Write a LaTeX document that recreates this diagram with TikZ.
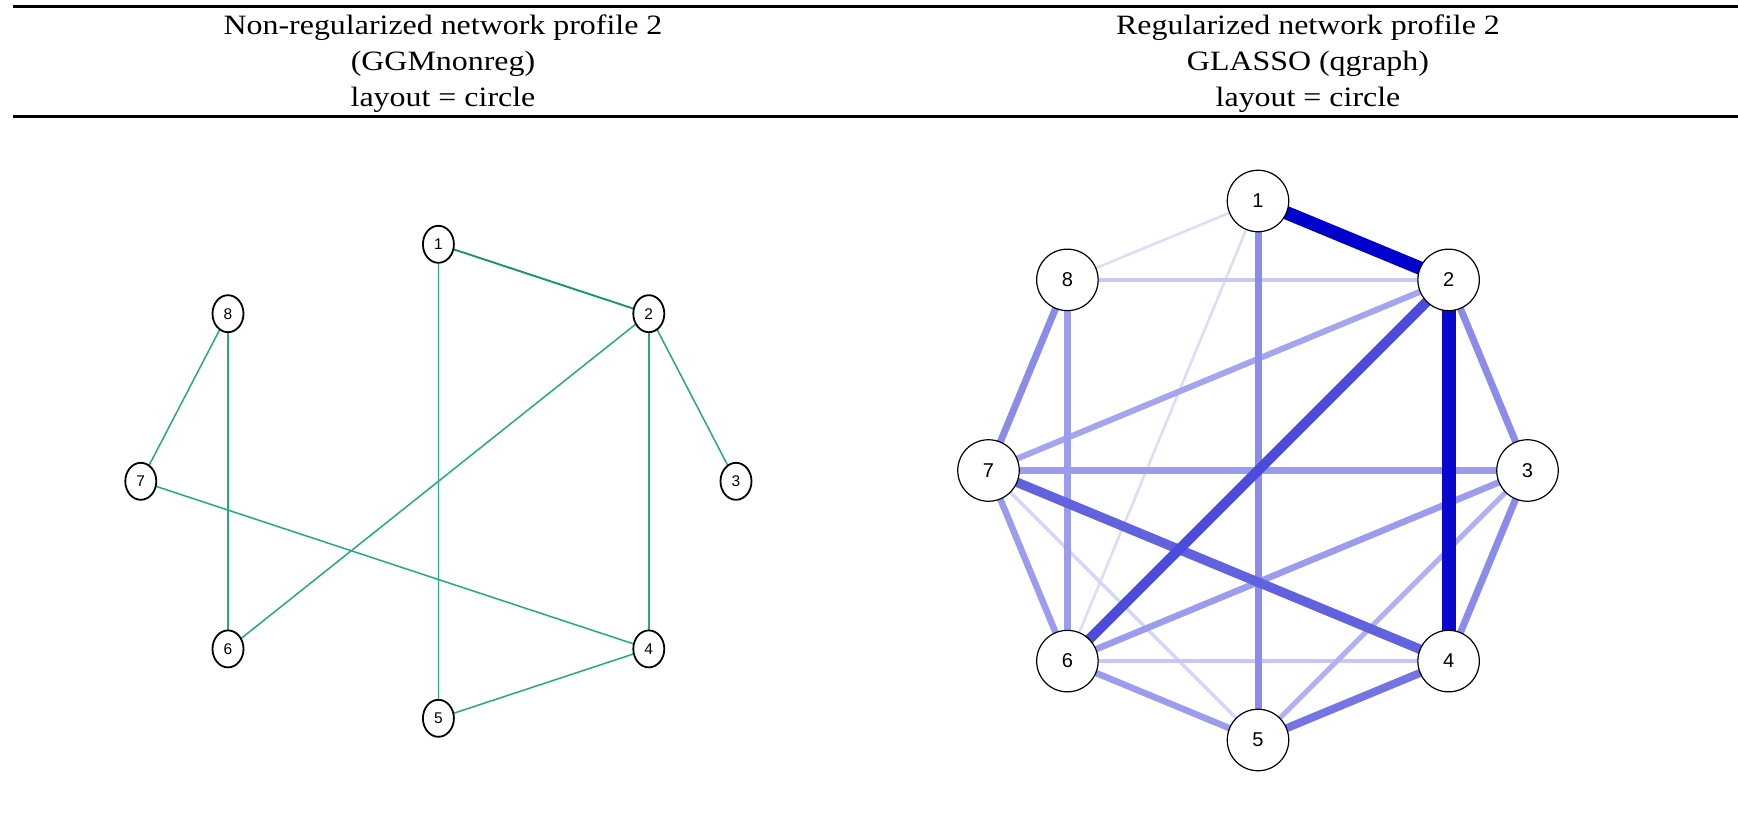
\documentclass[tikz,border=0pt]{standalone}
\usepackage{fontspec}
\setmainfont{Liberation Serif}
\newfontfamily\labfont{Liberation Sans}
\pgfdeclarelayer{bg}
\pgfsetlayers{bg,main}
\definecolor{gedge}{RGB}{35,170,125}
\definecolor{gedgedk}{RGB}{22,150,108}
\definecolor{ea}{HTML}{0000CC}
\definecolor{eb}{HTML}{0808CE}
\definecolor{ec}{HTML}{4B4BDE}
\definecolor{ed}{HTML}{6262E1}
\definecolor{ee}{HTML}{7474E4}
\definecolor{ef}{HTML}{8B8BE9}
\definecolor{eg}{HTML}{9C9CEE}
\definecolor{eh}{HTML}{A4A4EF}
\definecolor{ei}{HTML}{B0B0F2}
\definecolor{ej}{HTML}{C8C8F5}
\definecolor{ek}{HTML}{D5D5F7}
\definecolor{el}{HTML}{DDDDF8}
\tikzset{
  title/.style={anchor=base, inner sep=0pt, font=\fontsize{28}{30}\selectfont},
  lnode/.style={draw=black, line width=1.8pt, fill=white, ellipse, minimum width=31pt, minimum height=37pt, inner sep=0pt, font=\labfont\fontsize{15.5}{15.5}\selectfont},
  rnode/.style={draw=black, line width=1.2pt, fill=white, circle, minimum size=61.5pt, inner sep=0pt, font=\labfont\fontsize{20}{20}\selectfont},
  ledge/.style={draw=gedge, line width=1.5pt},
  redge/.style={line cap=butt},
  rule/.style={line width=2.5pt, black}
}
\usetikzlibrary{shapes.geometric}
\begin{document}
\begin{tikzpicture}[x=1pt,y=-1pt]
\useasboundingbox (0,0) rectangle (1738,821);
% header
\coordinate (tl) at (13,6.7);
\coordinate (tr) at (1738,6.7);
\coordinate (bl) at (13,116.7);
\coordinate (br) at (1738,116.7);
\draw[rule] (tl) -- (tr);
\draw[rule] (bl) -- (br);
\node[title] (t1a) at (443,34.5) {\scalebox{1.14}[1]{Non-regularized network profile 2}};
\node[title] (t1b) at (443,70.5) {\scalebox{1.14}[1]{(GGMnonreg)}};
\node[title] (t1c) at (443,106.3) {\scalebox{1.14}[1]{layout = circle}};
\node[title] (t2a) at (1308,34.5) {\scalebox{1.14}[1]{Regularized network profile 2}};
\node[title] (t2b) at (1308,70.5) {\scalebox{1.14}[1]{GLASSO (qgraph)}};
\node[title] (t2c) at (1308,106.3) {\scalebox{1.14}[1]{layout = circle}};
% left graph nodes
\node[lnode] (l1) at (438.4,244.3) {1};
\node[lnode] (l2) at (648.8,313.7) {2};
\node[lnode] (l3) at (736.0,481.3) {3};
\node[lnode] (l4) at (648.8,648.9) {4};
\node[lnode] (l5) at (438.4,718.3) {5};
\node[lnode] (l6) at (228.0,648.9) {6};
\node[lnode] (l7) at (140.8,481.3) {7};
\node[lnode] (l8) at (228.0,313.7) {8};
\begin{pgfonlayer}{bg}
\draw[ledge, draw=gedgedk, line width=1.9pt] (l1.center) -- (l2.center);
\draw[ledge] (l1.center) -- (l5.center);
\draw[ledge] (l2.center) -- (l6.center);
\draw[ledge] (l2.center) -- (l4.center);
\draw[ledge] (l2.center) -- (l3.center);
\draw[ledge] (l8.center) -- (l7.center);
\draw[ledge] (l8.center) -- (l6.center);
\draw[ledge] (l7.center) -- (l4.center);
\draw[ledge] (l4.center) -- (l5.center);
\end{pgfonlayer}
% right graph nodes
\node[rnode] (r1) at (1258.0,201.0) {1};
\node[rnode] (r2) at (1448.6,279.9) {2};
\node[rnode] (r3) at (1527.5,470.5) {3};
\node[rnode] (r4) at (1448.6,661.1) {4};
\node[rnode] (r5) at (1258.0,740.0) {5};
\node[rnode] (r6) at (1067.4,661.1) {6};
\node[rnode] (r7) at (988.5,470.5) {7};
\node[rnode] (r8) at (1067.4,279.9) {8};
\begin{pgfonlayer}{bg}
\draw[redge, draw=el, line width=2.6pt] (r1.center) -- (r8.center);
\draw[redge, draw=el, line width=2.6pt] (r1.center) -- (r6.center);
\draw[redge, draw=ek, line width=3.2pt] (r7.center) -- (r5.center);
\draw[redge, draw=ej, line width=4pt] (r8.center) -- (r2.center);
\draw[redge, draw=ej, line width=4pt] (r6.center) -- (r4.center);
\draw[redge, draw=ei, line width=5pt] (r3.center) -- (r5.center);
\draw[redge, draw=eh, line width=6pt] (r2.center) -- (r7.center);
\draw[redge, draw=eg, line width=6.5pt] (r8.center) -- (r6.center);
\draw[redge, draw=eg, line width=6.5pt] (r7.center) -- (r6.center);
\draw[redge, draw=eg, line width=6.5pt] (r7.center) -- (r3.center);
\draw[redge, draw=eg, line width=6.5pt] (r3.center) -- (r6.center);
\draw[redge, draw=eg, line width=6.5pt] (r6.center) -- (r5.center);
\draw[redge, draw=ef, line width=7pt] (r8.center) -- (r7.center);
\draw[redge, draw=ef, line width=7pt] (r2.center) -- (r3.center);
\draw[redge, draw=ef, line width=7pt] (r3.center) -- (r4.center);
\draw[redge, draw=ef, line width=7pt] (r1.center) -- (r5.center);
\draw[redge, draw=ee, line width=8pt] (r4.center) -- (r5.center);
\draw[redge, draw=ed, line width=9.5pt] (r7.center) -- (r4.center);
\draw[redge, draw=ec, line width=10pt] (r2.center) -- (r6.center);
\draw[redge, draw=eb, line width=14pt] (r2.center) -- (r4.center);
\draw[redge, draw=ea, line width=13.5pt] (r1.center) -- (r2.center);
\end{pgfonlayer}
\end{tikzpicture}
\end{document}
